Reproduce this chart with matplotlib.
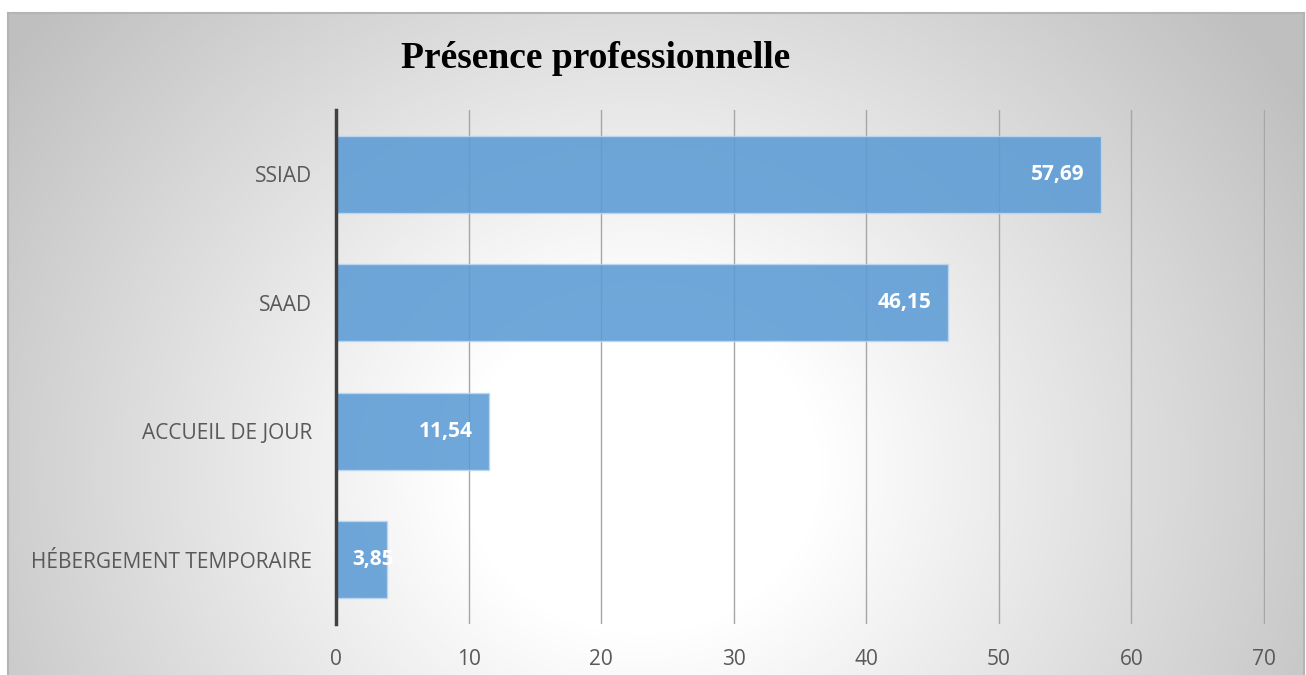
import numpy as np
import matplotlib
matplotlib.use('Agg')
import matplotlib.pyplot as plt

categories = ['HÉBERGEMENT TEMPORAIRE', 'ACCUEIL DE JOUR', 'SAAD', 'SSIAD']
values = [3.85, 11.54, 46.15, 57.69]
xticks = [0, 10, 20, 30, 40, 50, 60, 70]

W, H = 1306, 675

def background(fig):
	# radial grey gradient, white near the lower middle
	bg = fig.add_axes([8 / W, 0, 1 - 10 / W, 1 - 13 / H], zorder=-10)
	yy, xx = np.mgrid[13:H, 8:W - 2]
	r = np.hypot(xx - 640, (yy - 470) * 1.1)
	c = 1 - 0.25 * np.clip((r - 180) / 600, 0, 1)
	bg.imshow(np.dstack([c, c, c]), aspect='auto', extent=[0, 1, 0, 1])
	bg.set_xticks([])
	bg.set_yticks([])
	bg.spines['bottom'].set_visible(False)
	for s in ['left', 'top', 'right']:
		bg.spines[s].set_color('#b4b4b4')
		bg.spines[s].set_linewidth(1.5)

def main():
	fig = plt.figure(figsize=(W / 100, H / 100), dpi=100)
	background(fig)

	ax = fig.add_axes([336 / W, 1 - 624 / H, (1265 - 336) / W, (624 - 110) / H])
	ax.set_facecolor('none')
	y = np.arange(len(categories))
	bars = ax.barh(y, values, height=0.6, color='#5B9BD5', alpha=0.88,
		edgecolor='#BDD7EE', linewidth=1, zorder=3)

	for i, v in enumerate(values):
		lbl = ('%.2f' % v).replace('.', ',')
		if v < 6:
			ax.annotate(lbl, (0, i), xytext=(12, 0), textcoords='offset points',
				ha='left', va='center', color='white', fontweight='bold',
				fontsize=15, family='Open Sans', zorder=4, annotation_clip=False)
		else:
			ax.annotate(lbl, (v, i), xytext=(-12, 0), textcoords='offset points',
				ha='right', va='center', color='white', fontweight='bold',
				fontsize=15, family='Open Sans', zorder=4)

	ax.set_xlim(0, 70.08)
	ax.set_ylim(-0.5, len(categories) - 0.5)
	ax.set_xticks(xticks, labels=[str(t) for t in xticks])
	ax.set_yticks(y, labels=categories)
	ax.grid(axis='x', color='#a6a6a6', linewidth=1, zorder=0)
	ax.tick_params(length=0, colors='#595959', labelsize=15)
	ax.tick_params(axis='x', pad=18)
	ax.tick_params(axis='y', pad=17)
	for t in ax.get_xticklabels() + ax.get_yticklabels():
		t.set_family('Open Sans')
	for s in ['top', 'right', 'bottom']:
		ax.spines[s].set_visible(False)
	ax.spines['left'].set_color('#404040')
	ax.spines['left'].set_linewidth(2.5)
	ax.spines['left'].set_zorder(5)

	fig.text(596 / W, 1 - 58 / H, 'Présence professionnelle', ha='center', va='center',
		fontsize=27, fontweight='bold', family='Liberation Serif')

	fig.savefig('out.png', dpi=100)

if __name__ == '__main__':
	main()
